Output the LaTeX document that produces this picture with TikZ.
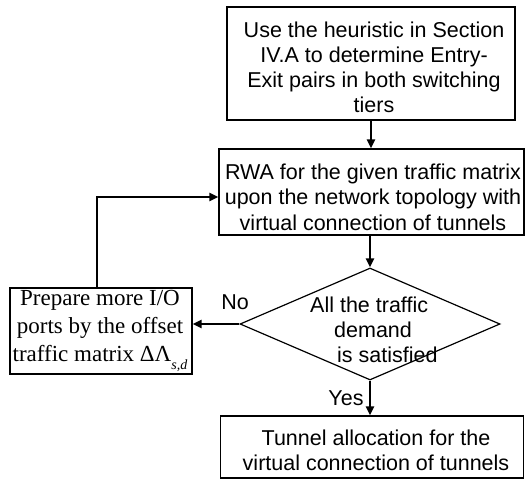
\documentclass[tikz,border=0pt]{standalone}
\usepackage{fontspec}
\setmainfont{Liberation Sans}
\newfontfamily\timesf{Liberation Serif}
\usetikzlibrary{shapes.geometric,arrows.meta}
\begin{document}
\begin{tikzpicture}[x=1pt,y=-1pt,
  box/.style={draw,line width=1.2pt,inner sep=0pt,rectangle},
  conn/.style={line width=2.5pt,-{Triangle[length=9pt,width=8pt]}},
  lab/.style={font=\fontsize{21.5}{25}\selectfont,align=center,inner sep=0pt}]
\useasboundingbox (0,0) rectangle (525,483);
% boxes
\node[box,minimum width=288pt,minimum height=113pt] (b1) at (371,63.5) {};
\node[lab] (t1) at (374,67) {Use the heuristic in Section\\IV.A to determine Entry-\\Exit pairs in both switching\\tiers};
\node[box,minimum width=305pt,minimum height=86pt] (b2) at (371.5,192) {};
\node[lab,font=\fontsize{21.5}{25.5}\selectfont] (t2) at (373,197) {RWA for the given traffic matrix\\upon the network topology with\\virtual connection of tunnels};
\node[draw,diamond,line width=1.2pt,inner sep=0pt,minimum width=260pt,minimum height=112pt] (dia) at (370,324) {};
\node[lab,align=left,anchor=west] (t3) at (310,330) {All the traffic\\\hspace*{24pt}demand\\\hspace*{27pt}is satisfied};
\node[box,minimum width=182pt,minimum height=86pt] (lb) at (101,331) {};
\node[inner sep=0pt,align=center,font=\timesf\fontsize{23}{28}\selectfont] (t4) at (100,331) {Prepare more I/O\\ports by the offset\\traffic matrix ΔΛ\raisebox{-8pt}{\fontsize{14}{14}\selectfont\itshape s,d}};
\node[box,minimum width=303pt,minimum height=62pt] (b4) at (372,447) {};
\node[lab] (t5) at (376,450) {Tunnel allocation for the\\virtual connection of tunnels};
% labels
\node[lab] (no) at (235,302) {No};
\node[lab] (yes) at (346,398) {Yes};
% connectors
\draw[conn] (b1.south) -- (b1.south |- b2.north);
\draw[conn] (b2.south -| dia.north) -- (dia.north);
\draw[conn] (dia.west) -- (dia.west -| lb.east);
\draw[conn] ([xshift=-4pt]lb.north) |- ([yshift=-5pt]b2.west);
\draw[conn] (dia.south) -- (dia.south |- b4.north);
\end{tikzpicture}
\end{document}
